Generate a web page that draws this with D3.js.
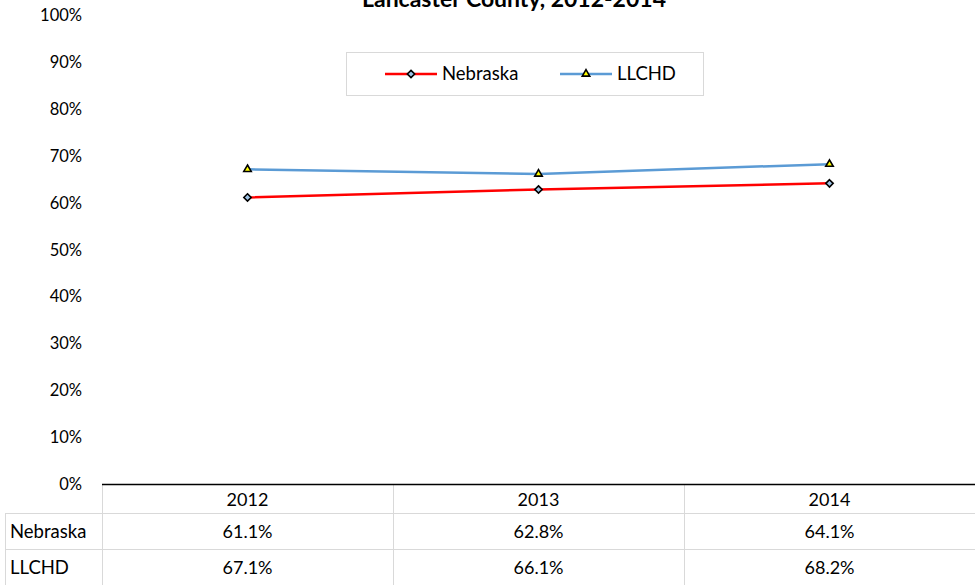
<!DOCTYPE html>
<html lang="en">
<head>
<meta charset="utf-8">
<title>Lancaster County, 2012-2014</title>
<script src="https://cdn.jsdelivr.net/npm/d3@7"></script>
<style>
  body { margin: 0; background: #fff; }
  svg { display: block; font-family: Lato, "Open Sans", sans-serif; }
</style>
</head>
<body>
<script>
// chart data
const years = ["2012", "2013", "2014"];
const nebraska = [61.1, 62.8, 64.1];
const llchd = [67.1, 66.1, 68.2];
const yTicks = [0, 10, 20, 30, 40, 50, 60, 70, 80, 90, 100];

const W = 975, H = 585;
const plotLeft = 102, plotRight = 975, plotTop = 15, plotBottom = 484;

const svg = d3.select("body").append("svg")
  .attr("width", W).attr("height", H);

const x = d3.scaleBand().domain(years).range([plotLeft, plotRight]);
const y = d3.scaleLinear().domain([0, 100]).range([plotBottom, plotTop]);

// title (partly cut off at the top, as in the source)
svg.append("text")
  .attr("x", 514).attr("y", 7)
  .attr("text-anchor", "middle")
  .attr("font-size", 23).attr("font-weight", "bold")
  .text("Lancaster County, 2012-2014");

// y axis labels
svg.selectAll("text.ytick")
  .data(yTicks)
  .enter().append("text")
  .attr("class", "ytick")
  .attr("x", 82)
  .attr("y", d => y(d) + 6)
  .attr("text-anchor", "end")
  .attr("font-size", 16.5)
  .text(d => d + "%");

// table grid
const grid = svg.append("g").attr("stroke", "#d9d9d9").attr("stroke-width", 1);
[513, 549].forEach(v => grid.append("line").attr("x1", 5).attr("x2", plotRight).attr("y1", v + 0.5).attr("y2", v + 0.5));
grid.append("line").attr("x1", 5.5).attr("x2", 5.5).attr("y1", 513).attr("y2", 585);
years.forEach(d => {
  const xv = Math.round(x(d) + x.bandwidth());
  if (xv < plotRight) grid.append("line").attr("x1", xv + 0.5).attr("x2", xv + 0.5).attr("y1", 484).attr("y2", 585);
});
grid.append("line").attr("x1", plotLeft + 0.5).attr("x2", plotLeft + 0.5).attr("y1", 484).attr("y2", 585);

// x axis line
svg.append("line")
  .attr("x1", plotLeft).attr("x2", plotRight)
  .attr("y1", plotBottom + 0.5).attr("y2", plotBottom + 0.5)
  .attr("stroke", "#000").attr("stroke-width", 1.3);

// header + values
svg.selectAll("text.year").data(years).enter().append("text")
  .attr("class", "year")
  .attr("x", d => x(d) + x.bandwidth() / 2).attr("y", 506)
  .attr("text-anchor", "middle").attr("font-size", 18)
  .text(d => d);

const rows = [
  { name: "Nebraska", values: nebraska, y: 538 },
  { name: "LLCHD", values: llchd, y: 574 }
];
rows.forEach(r => {
  svg.append("text").attr("x", 10).attr("y", r.y).attr("font-size", 18.5).text(r.name);
  svg.selectAll(null).data(r.values).enter().append("text")
    .attr("x", (d, i) => x(years[i]) + x.bandwidth() / 2).attr("y", r.y)
    .attr("text-anchor", "middle").attr("font-size", 18)
    .text(d => d.toFixed(1) + "%");
});

// series
const series = [
  { name: "Nebraska", values: nebraska, color: "#ff0000", marker: "diamond", fill: "#9dc3e6" },
  { name: "LLCHD", values: llchd, color: "#5b9bd5", marker: "triangle", fill: "#ffff00" }
];

const line = d3.line()
  .x((d, i) => x(years[i]) + x.bandwidth() / 2)
  .y(d => y(d));

function markerPath(type) {
  if (type === "diamond") return d3.symbol().type(d3.symbolDiamond2).size(34)();
  return d3.symbol().type(d3.symbolTriangle2).size(40)();
}

series.forEach(s => {
  svg.append("path")
    .datum(s.values)
    .attr("d", line)
    .attr("fill", "none")
    .attr("stroke", s.color)
    .attr("stroke-width", 2.5);
  svg.selectAll(null).data(s.values).enter().append("path")
    .attr("d", markerPath(s.marker))
    .attr("transform", (d, i) => `translate(${x(years[i]) + x.bandwidth() / 2},${y(d)})`)
    .attr("fill", s.fill)
    .attr("stroke", "#000")
    .attr("stroke-width", 1.6);
});

// legend
const lg = svg.append("g");
lg.append("rect")
  .attr("x", 346.5).attr("y", 52.5).attr("width", 357).attr("height", 43)
  .attr("fill", "#fff").attr("stroke", "#d9d9d9");
const legendX = [385, 560];
series.forEach((s, i) => {
  const lx = legendX[i];
  lg.append("line").attr("x1", lx).attr("x2", lx + 52).attr("y1", 74).attr("y2", 74)
    .attr("stroke", s.color).attr("stroke-width", 2.5);
  lg.append("path").attr("d", markerPath(s.marker))
    .attr("transform", `translate(${lx + 26},74)`)
    .attr("fill", s.fill).attr("stroke", "#000").attr("stroke-width", 1.6);
  lg.append("text").attr("x", lx + 57).attr("y", 80).attr("font-size", 18.5).text(s.name);
});
</script>
</body>
</html>
